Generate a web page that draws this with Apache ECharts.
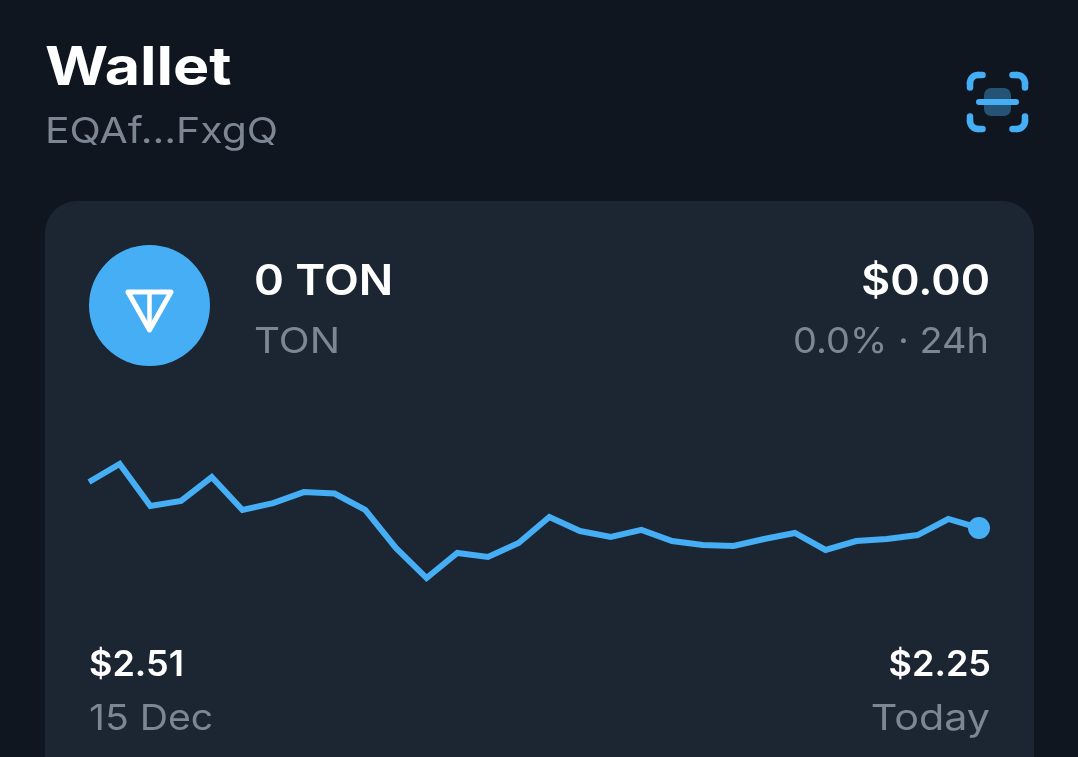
<!DOCTYPE html>
<html><head><meta charset="utf-8">
<style>html,body{margin:0;padding:0;background:#0f1620}#c{width:1078px;height:757px}</style>
<script src="https://cdn.jsdelivr.net/npm/echarts@6/dist/echarts.min.js"></script>
</head><body><div id="c"></div>
<script>
const priceIndex = [0,1,2,3,4,5,6,7,8,9,10,11,12,13,14,15,16,17,18,19,20,21,22,23,24,25,26,27,28,29];
const prices = [2.51,2.612,2.374,2.403,2.538,2.352,2.391,2.453,2.445,2.352,2.137,1.967,2.109,2.086,2.165,2.312,2.233,2.199,2.239,2.176,2.154,2.148,2.188,2.222,2.126,2.176,2.188,2.21,2.301,2.25];
const titleText = 'Wallet', addressText = 'EQAf...FxgQ';
const tokenAmount = '0 TON', tokenName = 'TON', fiatValue = '$0.00', changeText = '0.0% · 24h';
const startPrice = '$2.51', endPrice = '$2.25', startLabel = '15 Dec', endLabel = 'Today';

const BLUE = '#45aef5', GREY = '#7c8793', WHITE = '#ffffff', FONT = 'Inter';
function txt(x, baseline, text, size, weight, fill, align, sx) {
  return {type:'text', x, y:baseline - size*0.82, scaleX:sx||1, z:5,
    style:{text, fontFamily:FONT, fontSize:size, fontWeight:weight, fill, align:align||'left'}};
}
function stroke(type, shape, width) {
  return {type, shape, z:5, style:{stroke:BLUE, fill:'none', lineWidth:width, lineCap:'round', lineJoin:'round'}};
}
function corner(cx, cy, sx, sy) {
  const r = 8, L = 4.5, w = 6.5, P = Math.PI;
  const start = sx < 0 ? (sy < 0 ? P : P/2) : (sy < 0 ? 1.5*P : 0);
  return [
    stroke('arc', {cx, cy, r, startAngle:start, endAngle:start + P/2}, w),
    stroke('line', {x1:cx + sx*r, y1:cy, x2:cx + sx*r, y2:cy - sy*L}, w),
    stroke('line', {x1:cx, y1:cy + sy*r, x2:cx - sx*L, y2:cy + sy*r}, w)
  ];
}
const chart = echarts.init(document.getElementById('c'), null, {renderer:'canvas'});
chart.setOption({
  backgroundColor:'#0f1620',
  animation:false,
  grid:{left:89, width:890, top:448.4, height:159.2},
  xAxis:{type:'category', data:priceIndex, boundaryGap:false, show:false},
  yAxis:{type:'value', min:1.8, max:2.7, show:false},
  series:[{type:'line', data:prices, z:10, symbol:'circle', symbolSize:(v,p)=>p.dataIndex===prices.length-1?22:0,
    showSymbol:true, showAllSymbol:true, smooth:false,
    lineStyle:{color:BLUE, width:6, join:'miter'}, itemStyle:{color:BLUE}}],
  graphic:[
    {type:'rect', z:0, shape:{x:45,y:201,width:989,height:620,r:32}, style:{fill:'#1c2632'}},
    txt(45,86,titleText,54,700,WHITE,'left',1.128),
    txt(45,144,addressText,36,400,GREY,'left',1.138),
    {type:'rect', z:4, shape:{x:984,y:88,width:27,height:28,r:7}, style:{fill:BLUE, opacity:0.4}},
    ...corner(978,83,-1,-1), ...corner(1017,83,1,-1), ...corner(978,121,-1,1), ...corner(1017,121,1,1),
    stroke('line',{x1:979,y1:102,x2:1016,y2:102},6),
    {type:'circle', z:4, shape:{cx:149.5,cy:305.5,r:60.5}, style:{fill:BLUE}},
    {type:'polygon', z:5, shape:{points:[[128,292],[171,292],[149.5,330]]}, style:{stroke:WHITE, fill:'none', lineWidth:5, lineJoin:'round'}},
    {type:'line', z:5, shape:{x1:149.5,y1:292,x2:149.5,y2:330}, style:{stroke:WHITE, lineWidth:4.5}},
    txt(254,296,tokenAmount,42,600,WHITE,'left',1.08),
    txt(254,354,tokenName,36,400,GREY,'left',1.12),
    txt(990,296,fiatValue,42,600,WHITE,'right',1.06),
    txt(989,354,changeText,36,400,GREY,'right',1.054),
    txt(89,677,startPrice,36,600,WHITE),
    txt(89,731,startLabel,36,400,GREY,'left',1.088),
    txt(991,677,endPrice,36,600,WHITE,'right'),
    txt(990,731,endLabel,36,400,GREY,'right',1.147)
  ]
});
</script></body></html>
